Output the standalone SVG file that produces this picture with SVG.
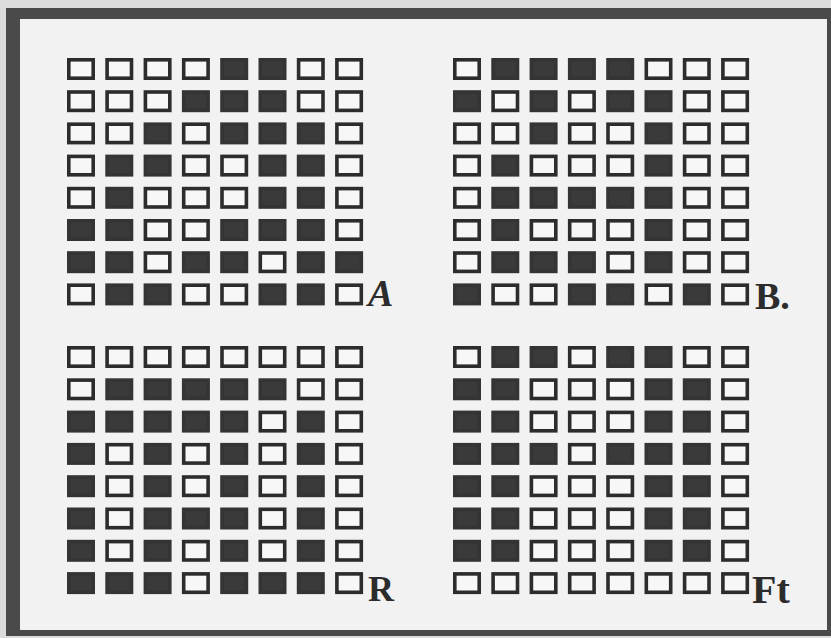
<svg xmlns="http://www.w3.org/2000/svg" xmlns:xlink="http://www.w3.org/1999/xlink" width="831" height="638" viewBox="0 0 831 638">
<style>
.o{fill:#f7f7f7;stroke:#2c2c2c;stroke-width:3.6}
.f{fill:#3a3a3a;stroke:#343434;stroke-width:3.6}
.lbl{font-family:"Liberation Serif","DejaVu Serif",serif;font-weight:bold;fill:#2c2c2c}
</style>
<defs>
<rect id="o" class="o" x="1.8" y="1.8" width="24.4" height="18.4"/>
<rect id="f" class="f" x="1.8" y="1.8" width="24.4" height="18.4"/>
</defs>
<rect x="0" y="0" width="831" height="638" fill="#dcdcdc"/>
<rect x="6" y="8" width="825" height="628" fill="#4a4a4a"/>
<rect x="20" y="19" width="807" height="611" fill="#f2f2f2"/>

<g id="gridA" transform="translate(67,58)">
<use href="#o" x="0" y="0"/><use href="#o" x="38.3" y="0"/><use href="#o" x="76.6" y="0"/><use href="#o" x="114.9" y="0"/><use href="#f" x="153.2" y="0"/><use href="#f" x="191.5" y="0"/><use href="#o" x="229.8" y="0"/><use href="#o" x="268.1" y="0"/>
<use href="#o" x="0" y="32.2"/><use href="#o" x="38.3" y="32.2"/><use href="#o" x="76.6" y="32.2"/><use href="#f" x="114.9" y="32.2"/><use href="#f" x="153.2" y="32.2"/><use href="#f" x="191.5" y="32.2"/><use href="#o" x="229.8" y="32.2"/><use href="#o" x="268.1" y="32.2"/>
<use href="#o" x="0" y="64.4"/><use href="#o" x="38.3" y="64.4"/><use href="#f" x="76.6" y="64.4"/><use href="#o" x="114.9" y="64.4"/><use href="#f" x="153.2" y="64.4"/><use href="#f" x="191.5" y="64.4"/><use href="#f" x="229.8" y="64.4"/><use href="#o" x="268.1" y="64.4"/>
<use href="#o" x="0" y="96.6"/><use href="#f" x="38.3" y="96.6"/><use href="#f" x="76.6" y="96.6"/><use href="#o" x="114.9" y="96.6"/><use href="#o" x="153.2" y="96.6"/><use href="#f" x="191.5" y="96.6"/><use href="#f" x="229.8" y="96.6"/><use href="#o" x="268.1" y="96.6"/>
<use href="#o" x="0" y="128.8"/><use href="#f" x="38.3" y="128.8"/><use href="#o" x="76.6" y="128.8"/><use href="#o" x="114.9" y="128.8"/><use href="#o" x="153.2" y="128.8"/><use href="#f" x="191.5" y="128.8"/><use href="#f" x="229.8" y="128.8"/><use href="#o" x="268.1" y="128.8"/>
<use href="#f" x="0" y="161"/><use href="#f" x="38.3" y="161"/><use href="#o" x="76.6" y="161"/><use href="#o" x="114.9" y="161"/><use href="#f" x="153.2" y="161"/><use href="#f" x="191.5" y="161"/><use href="#f" x="229.8" y="161"/><use href="#o" x="268.1" y="161"/>
<use href="#f" x="0" y="193.2"/><use href="#f" x="38.3" y="193.2"/><use href="#o" x="76.6" y="193.2"/><use href="#f" x="114.9" y="193.2"/><use href="#f" x="153.2" y="193.2"/><use href="#o" x="191.5" y="193.2"/><use href="#f" x="229.8" y="193.2"/><use href="#f" x="268.1" y="193.2"/>
<use href="#o" x="0" y="225.4"/><use href="#f" x="38.3" y="225.4"/><use href="#f" x="76.6" y="225.4"/><use href="#o" x="114.9" y="225.4"/><use href="#o" x="153.2" y="225.4"/><use href="#f" x="191.5" y="225.4"/><use href="#f" x="229.8" y="225.4"/><use href="#o" x="268.1" y="225.4"/>
</g>
<text class="lbl" x="368" y="306" font-size="38" font-style="italic">A</text>

<g id="gridB" transform="translate(453,58)">
<use href="#o" x="0" y="0"/><use href="#f" x="38.3" y="0"/><use href="#f" x="76.6" y="0"/><use href="#f" x="114.9" y="0"/><use href="#f" x="153.2" y="0"/><use href="#o" x="191.5" y="0"/><use href="#o" x="229.8" y="0"/><use href="#o" x="268.1" y="0"/>
<use href="#f" x="0" y="32.2"/><use href="#o" x="38.3" y="32.2"/><use href="#f" x="76.6" y="32.2"/><use href="#o" x="114.9" y="32.2"/><use href="#f" x="153.2" y="32.2"/><use href="#f" x="191.5" y="32.2"/><use href="#o" x="229.8" y="32.2"/><use href="#o" x="268.1" y="32.2"/>
<use href="#o" x="0" y="64.4"/><use href="#o" x="38.3" y="64.4"/><use href="#f" x="76.6" y="64.4"/><use href="#o" x="114.9" y="64.4"/><use href="#o" x="153.2" y="64.4"/><use href="#f" x="191.5" y="64.4"/><use href="#o" x="229.8" y="64.4"/><use href="#o" x="268.1" y="64.4"/>
<use href="#o" x="0" y="96.6"/><use href="#f" x="38.3" y="96.6"/><use href="#o" x="76.6" y="96.6"/><use href="#o" x="114.9" y="96.6"/><use href="#o" x="153.2" y="96.6"/><use href="#f" x="191.5" y="96.6"/><use href="#o" x="229.8" y="96.6"/><use href="#o" x="268.1" y="96.6"/>
<use href="#o" x="0" y="128.8"/><use href="#f" x="38.3" y="128.8"/><use href="#f" x="76.6" y="128.8"/><use href="#f" x="114.9" y="128.8"/><use href="#f" x="153.2" y="128.8"/><use href="#f" x="191.5" y="128.8"/><use href="#o" x="229.8" y="128.8"/><use href="#o" x="268.1" y="128.8"/>
<use href="#o" x="0" y="161"/><use href="#f" x="38.3" y="161"/><use href="#o" x="76.6" y="161"/><use href="#o" x="114.9" y="161"/><use href="#o" x="153.2" y="161"/><use href="#f" x="191.5" y="161"/><use href="#o" x="229.8" y="161"/><use href="#o" x="268.1" y="161"/>
<use href="#o" x="0" y="193.2"/><use href="#f" x="38.3" y="193.2"/><use href="#f" x="76.6" y="193.2"/><use href="#f" x="114.9" y="193.2"/><use href="#o" x="153.2" y="193.2"/><use href="#f" x="191.5" y="193.2"/><use href="#o" x="229.8" y="193.2"/><use href="#o" x="268.1" y="193.2"/>
<use href="#f" x="0" y="225.4"/><use href="#o" x="38.3" y="225.4"/><use href="#o" x="76.6" y="225.4"/><use href="#f" x="114.9" y="225.4"/><use href="#f" x="153.2" y="225.4"/><use href="#o" x="191.5" y="225.4"/><use href="#f" x="229.8" y="225.4"/><use href="#o" x="268.1" y="225.4"/>
</g>
<text class="lbl" x="755" y="309" font-size="38">B.</text>

<g id="gridC" transform="translate(67,346)">
<use href="#o" x="0" y="0"/><use href="#o" x="38.3" y="0"/><use href="#o" x="76.6" y="0"/><use href="#o" x="114.9" y="0"/><use href="#o" x="153.2" y="0"/><use href="#o" x="191.5" y="0"/><use href="#o" x="229.8" y="0"/><use href="#o" x="268.1" y="0"/>
<use href="#o" x="0" y="32.3"/><use href="#f" x="38.3" y="32.3"/><use href="#f" x="76.6" y="32.3"/><use href="#f" x="114.9" y="32.3"/><use href="#f" x="153.2" y="32.3"/><use href="#f" x="191.5" y="32.3"/><use href="#o" x="229.8" y="32.3"/><use href="#o" x="268.1" y="32.3"/>
<use href="#f" x="0" y="64.6"/><use href="#f" x="38.3" y="64.6"/><use href="#f" x="76.6" y="64.6"/><use href="#f" x="114.9" y="64.6"/><use href="#f" x="153.2" y="64.6"/><use href="#o" x="191.5" y="64.6"/><use href="#f" x="229.8" y="64.6"/><use href="#o" x="268.1" y="64.6"/>
<use href="#f" x="0" y="96.9"/><use href="#o" x="38.3" y="96.9"/><use href="#f" x="76.6" y="96.9"/><use href="#o" x="114.9" y="96.9"/><use href="#f" x="153.2" y="96.9"/><use href="#o" x="191.5" y="96.9"/><use href="#f" x="229.8" y="96.9"/><use href="#o" x="268.1" y="96.9"/>
<use href="#f" x="0" y="129.2"/><use href="#o" x="38.3" y="129.2"/><use href="#f" x="76.6" y="129.2"/><use href="#o" x="114.9" y="129.2"/><use href="#f" x="153.2" y="129.2"/><use href="#o" x="191.5" y="129.2"/><use href="#f" x="229.8" y="129.2"/><use href="#o" x="268.1" y="129.2"/>
<use href="#f" x="0" y="161.5"/><use href="#o" x="38.3" y="161.5"/><use href="#f" x="76.6" y="161.5"/><use href="#f" x="114.9" y="161.5"/><use href="#f" x="153.2" y="161.5"/><use href="#o" x="191.5" y="161.5"/><use href="#f" x="229.8" y="161.5"/><use href="#o" x="268.1" y="161.5"/>
<use href="#f" x="0" y="193.8"/><use href="#o" x="38.3" y="193.8"/><use href="#f" x="76.6" y="193.8"/><use href="#o" x="114.9" y="193.8"/><use href="#f" x="153.2" y="193.8"/><use href="#o" x="191.5" y="193.8"/><use href="#f" x="229.8" y="193.8"/><use href="#o" x="268.1" y="193.8"/>
<use href="#f" x="0" y="226.1"/><use href="#f" x="38.3" y="226.1"/><use href="#f" x="76.6" y="226.1"/><use href="#o" x="114.9" y="226.1"/><use href="#f" x="153.2" y="226.1"/><use href="#f" x="191.5" y="226.1"/><use href="#f" x="229.8" y="226.1"/><use href="#o" x="268.1" y="226.1"/>
</g>
<text class="lbl" x="368" y="601" font-size="36">R</text>

<g id="gridD" transform="translate(453,346)">
<use href="#o" x="0" y="0"/><use href="#f" x="38.3" y="0"/><use href="#f" x="76.6" y="0"/><use href="#o" x="114.9" y="0"/><use href="#f" x="153.2" y="0"/><use href="#f" x="191.5" y="0"/><use href="#o" x="229.8" y="0"/><use href="#o" x="268.1" y="0"/>
<use href="#f" x="0" y="32.3"/><use href="#f" x="38.3" y="32.3"/><use href="#o" x="76.6" y="32.3"/><use href="#o" x="114.9" y="32.3"/><use href="#o" x="153.2" y="32.3"/><use href="#f" x="191.5" y="32.3"/><use href="#f" x="229.8" y="32.3"/><use href="#o" x="268.1" y="32.3"/>
<use href="#f" x="0" y="64.6"/><use href="#f" x="38.3" y="64.6"/><use href="#o" x="76.6" y="64.6"/><use href="#o" x="114.9" y="64.6"/><use href="#o" x="153.2" y="64.6"/><use href="#f" x="191.5" y="64.6"/><use href="#f" x="229.8" y="64.6"/><use href="#o" x="268.1" y="64.6"/>
<use href="#f" x="0" y="96.9"/><use href="#f" x="38.3" y="96.9"/><use href="#f" x="76.6" y="96.9"/><use href="#o" x="114.9" y="96.9"/><use href="#f" x="153.2" y="96.9"/><use href="#f" x="191.5" y="96.9"/><use href="#f" x="229.8" y="96.9"/><use href="#o" x="268.1" y="96.9"/>
<use href="#f" x="0" y="129.2"/><use href="#f" x="38.3" y="129.2"/><use href="#o" x="76.6" y="129.2"/><use href="#o" x="114.9" y="129.2"/><use href="#o" x="153.2" y="129.2"/><use href="#f" x="191.5" y="129.2"/><use href="#f" x="229.8" y="129.2"/><use href="#o" x="268.1" y="129.2"/>
<use href="#f" x="0" y="161.5"/><use href="#f" x="38.3" y="161.5"/><use href="#o" x="76.6" y="161.5"/><use href="#o" x="114.9" y="161.5"/><use href="#o" x="153.2" y="161.5"/><use href="#f" x="191.5" y="161.5"/><use href="#f" x="229.8" y="161.5"/><use href="#o" x="268.1" y="161.5"/>
<use href="#f" x="0" y="193.8"/><use href="#f" x="38.3" y="193.8"/><use href="#o" x="76.6" y="193.8"/><use href="#o" x="114.9" y="193.8"/><use href="#o" x="153.2" y="193.8"/><use href="#f" x="191.5" y="193.8"/><use href="#f" x="229.8" y="193.8"/><use href="#o" x="268.1" y="193.8"/>
<use href="#o" x="0" y="226.1"/><use href="#o" x="38.3" y="226.1"/><use href="#o" x="76.6" y="226.1"/><use href="#o" x="114.9" y="226.1"/><use href="#o" x="153.2" y="226.1"/><use href="#o" x="191.5" y="226.1"/><use href="#o" x="229.8" y="226.1"/><use href="#o" x="268.1" y="226.1"/>
</g>
<text class="lbl" x="752" y="603" font-size="40">Ft</text>
</svg>
